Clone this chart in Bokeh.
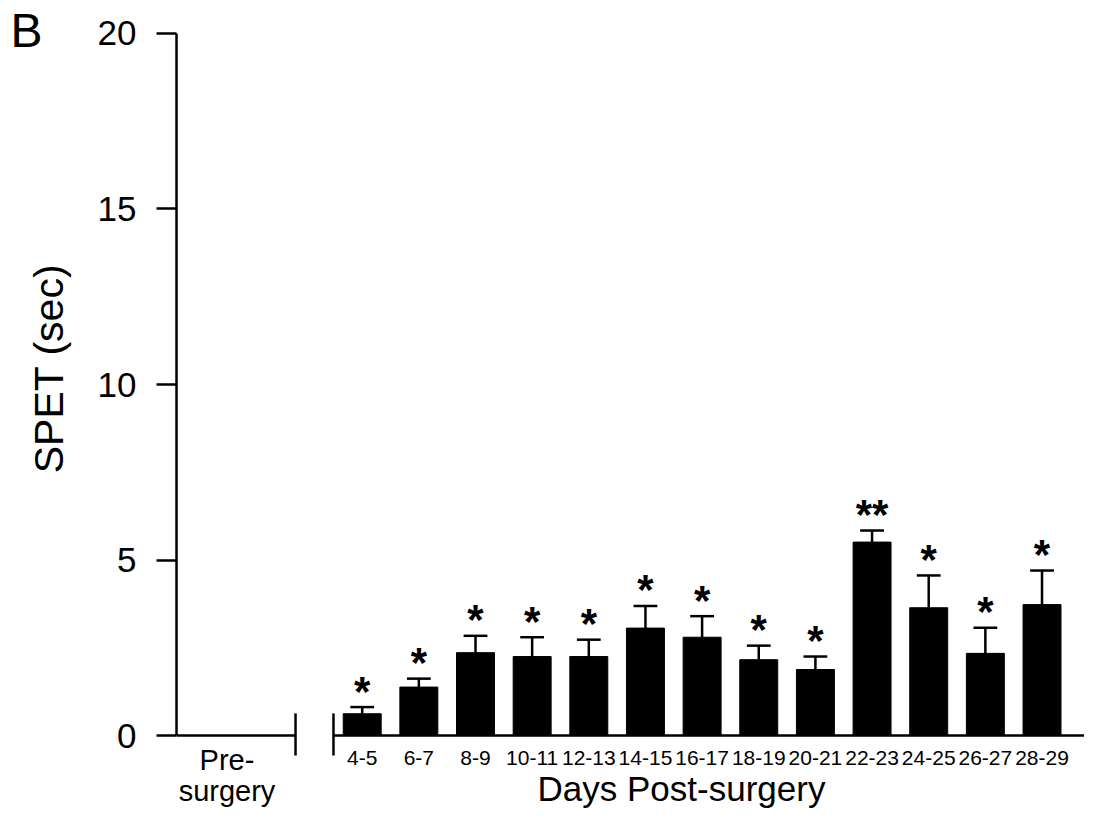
import math
from bokeh.plotting import figure
from bokeh.layouts import row
from bokeh.models import Range1d, FixedTicker
from bokeh.core.properties import value
from bokeh.embed import file_html
from bokeh.resources import INLINE

# ---- data ----
categories = ["4-5", "6-7", "8-9", "10-11", "12-13", "14-15", "16-17",
              "18-19", "20-21", "22-23", "24-25", "26-27", "28-29"]
spet_mean = [0.62, 1.38, 2.36, 2.25, 2.25, 3.06, 2.80, 2.16, 1.88, 5.51, 3.64, 2.34, 3.73]
spet_sem = [0.19, 0.24, 0.48, 0.55, 0.48, 0.63, 0.60, 0.40, 0.37, 0.33, 0.92, 0.73, 0.97]
significance = ["*", "*", "*", "*", "*", "*", "*", "*", "*", "**", "*", "*", "*"]
pre_label_lines = ["Pre-", "surgery"]
y_ticks = [0, 5, 10, 15, 20]
y_title = "SPET (sec)"
x_title = "Days Post-surgery"
panel_letter = "B"

FONT = "Liberation Sans"
H = 809
LEFT_W = 90

positions = list(range(1, len(categories) + 1))
err_top = [m + s for m, s in zip(spet_mean, spet_sem)]

# ---- left strip: panel letter and y title ----
left = figure(width=LEFT_W, height=H, x_range=Range1d(0, LEFT_W), y_range=Range1d(H, 0),
              output_backend="svg", toolbar_location=None, title=None,
              x_axis_location=None, y_axis_location=None,
              min_border_left=0, min_border_right=0, min_border_top=0, min_border_bottom=0)
left.grid.visible = False
left.outline_line_color = None
left.text(x=[10], y=[30], text=[panel_letter], text_align="left",
          text_baseline="alphabetic", text_font=value(FONT),
          text_font_size="48px", text_color="black")
left.text(x=[48], y=[368], text=[y_title], angle=math.pi / 2, text_align="center",
          text_baseline="middle", text_font=value(FONT),
          text_font_size="41px", text_color="black")

# ---- main chart ----
p = figure(width=1084 - LEFT_W, height=H,
           x_range=Range1d(-2.278, 13.75), y_range=Range1d(-2.108, 20.94),
           output_backend="svg", toolbar_location=None, title=None,
           x_axis_location=None, y_axis_location="left",
           min_border_left=176 - LEFT_W, min_border_right=0,
           min_border_top=0, min_border_bottom=0)
p.grid.visible = False
p.outline_line_color = None
p.background_fill_color = "white"

ax = p.yaxis[0]
ax.bounds = (0, 20)
ax.ticker = FixedTicker(ticks=y_ticks)
ax.minor_tick_line_color = None
ax.major_tick_in = 0
ax.major_tick_out = 20
ax.major_tick_line_width = 2.5
ax.axis_line_width = 2.5
ax.major_label_text_font = FONT
ax.major_label_text_font_size = "35px"
ax.major_label_text_color = "black"
ax.major_label_standoff = 20

# broken x axis
p.segment(x0=[-2.278, 0.493], y0=[0, 0], x1=[-0.177, 13.75], y1=[0, 0],
          line_color="black", line_width=2.5)
p.segment(x0=[-0.177, 0.493], y0=[0.63, 0.63], x1=[-0.177, 0.493], y1=[-0.57, -0.57],
          line_color="black", line_width=2.5)

# bars
p.vbar(x=positions, top=spet_mean, bottom=0, width=0.67,
       fill_color="black", line_color="black")

# error bars (upper only)
p.segment(x0=positions, y0=spet_mean, x1=positions, y1=err_top,
          line_color="black", line_width=2.5)
p.segment(x0=[x - 0.21 for x in positions], y0=err_top,
          x1=[x + 0.21 for x in positions], y1=err_top,
          line_color="black", line_width=2.5)

# significance stars
p.text(x=positions, y=err_top, text=significance, text_align="center",
       text_baseline="alphabetic", y_offset=-16,
       text_font=value(FONT), text_font_size="42px", text_font_style="bold",
       text_color="black")

# category labels
p.text(x=positions, y=-0.627, text=categories, text_align="center",
       text_baseline="alphabetic", text_font=value(FONT),
       text_font_size="21px", text_color="black")

# pre-surgery label
p.text(x=[-1.387, -1.387], y=[-0.684, -1.567], text=pre_label_lines,
       text_align="center", text_baseline="alphabetic",
       text_font=value(FONT), text_font_size="29px", text_color="black")

# x title
p.text(x=[6.636], y=[-1.51], text=[x_title], text_align="center",
       text_baseline="alphabetic", text_font=value(FONT),
       text_font_size="35px", text_color="black")

open("out.html", "w").write(file_html(row(left, p), INLINE))
